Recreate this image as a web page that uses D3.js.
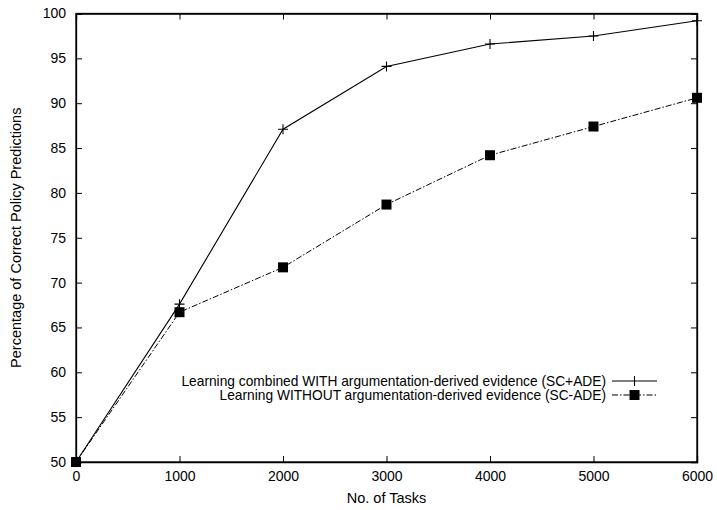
<!DOCTYPE html>
<html>
<head>
<meta charset="utf-8">
<script src="https://d3js.org/d3.v7.min.js"></script>
<style>
  body { margin: 0; background: #fff; }
  text { font-family: "Liberation Sans", Arial, Helvetica, sans-serif; fill: #000; }
</style>
</head>
<body>
<svg width="717" height="510"></svg>
<script>
// data
var tasks = [0, 1000, 2000, 3000, 4000, 5000, 6000];
var withADE = [50, 67.6, 87.1, 94.1, 96.6, 97.5, 99.2];
var withoutADE = [50, 66.7, 71.7, 78.7, 84.2, 87.4, 90.6];
var xTicks = [0, 1000, 2000, 3000, 4000, 5000, 6000];
var yTicks = [50, 55, 60, 65, 70, 75, 80, 85, 90, 95, 100];
var seriesNames = [
  "Learning combined WITH argumentation-derived evidence (SC+ADE)",
  "Learning WITHOUT argumentation-derived evidence (SC-ADE)"
];

var svg = d3.select("svg");
var pL = 76, pR = 697, pT = 13.5, pB = 462;

var x = d3.scaleLinear().domain([0, 6000]).range([pL, pR]);
var y = d3.scaleLinear().domain([50, 100]).range([pB, pT]);

// inward ticks on all four sides
var tl = 6;
svg.append("g").attr("transform", "translate(0," + pB + ")")
  .call(d3.axisBottom(x).tickValues(xTicks).tickSize(-tl).tickPadding(9).tickFormat(d3.format("d")));
svg.append("g").attr("transform", "translate(0," + pT + ")")
  .call(d3.axisTop(x).tickValues(xTicks).tickSize(-tl).tickFormat(""));
svg.append("g").attr("transform", "translate(" + pL + ",0)")
  .call(d3.axisLeft(y).tickValues(yTicks).tickSize(-tl).tickPadding(10).tickFormat(d3.format("d")));
svg.append("g").attr("transform", "translate(" + pR + ",0)")
  .call(d3.axisRight(y).tickValues(yTicks).tickSize(-tl).tickFormat(""));

svg.selectAll(".domain").attr("stroke", "#000").attr("stroke-width", 1.3);
svg.selectAll(".tick line").attr("stroke", "#000");
svg.selectAll(".tick text").style("font-size", "14px").attr("fill", "#000");

// frame
svg.append("rect").attr("x", pL).attr("y", pT)
  .attr("width", pR - pL).attr("height", pB - pT)
  .attr("fill", "none").attr("stroke", "#000").attr("stroke-width", 1.3);

// axis titles
svg.append("text").attr("x", (pL + pR) / 2).attr("y", 503)
  .attr("text-anchor", "middle").style("font-size", "14.5px").text("No. of Tasks");
svg.append("text").attr("transform", "translate(21," + (pT + pB) / 2 + ") rotate(-90)")
  .attr("text-anchor", "middle").style("font-size", "14.5px").text("Percentage of Correct Policy Predictions");

var line = d3.line().x(function(d, i) { return x(tasks[i]); }).y(function(d) { return y(d); });

// SC-ADE: dash-dot with filled squares
svg.append("path").datum(withoutADE).attr("d", line)
  .attr("fill", "none").attr("stroke", "#000").attr("stroke-width", 1)
  .attr("stroke-dasharray", "6,2,1.5,2");
svg.append("g").selectAll("rect").data(withoutADE).enter().append("rect")
  .attr("x", function(d, i) { return x(tasks[i]) - 5; })
  .attr("y", function(d) { return y(d) - 5; })
  .attr("width", 10).attr("height", 10).attr("fill", "#000");

// SC+ADE: solid with plus markers
svg.append("path").datum(withADE).attr("d", line)
  .attr("fill", "none").attr("stroke", "#000").attr("stroke-width", 1.1);
svg.append("g").selectAll("path").data(withADE).enter().append("path")
  .attr("d", function(d, i) {
    var cx = x(tasks[i]), cy = y(d);
    return "M" + (cx - 5) + "," + cy + "H" + (cx + 5) + "M" + cx + "," + (cy - 5) + "V" + (cy + 5);
  })
  .attr("stroke", "#000").attr("stroke-width", 1.1).attr("fill", "none");

// legend
var lg = svg.append("g");
var rows = [381, 395];
lg.selectAll("text").data(seriesNames).enter().append("text")
  .attr("x", 606).attr("y", function(d, i) { return rows[i]; })
  .attr("dy", "0.35em").attr("text-anchor", "end").style("font-size", "13.75px")
  .text(function(d) { return d; });
lg.append("line").attr("x1", 612).attr("x2", 657).attr("y1", rows[0]).attr("y2", rows[0])
  .attr("stroke", "#000").attr("stroke-width", 1.1);
lg.append("path").attr("d", "M634.5," + (rows[0] - 5) + "V" + (rows[0] + 5))
  .attr("stroke", "#000").attr("stroke-width", 1.1);
lg.append("line").attr("x1", 612).attr("x2", 657).attr("y1", rows[1]).attr("y2", rows[1])
  .attr("stroke", "#000").attr("stroke-width", 1).attr("stroke-dasharray", "6,2,1.5,2");
lg.append("rect").attr("x", 629.5).attr("y", rows[1] - 5).attr("width", 10).attr("height", 10).attr("fill", "#000");
</script>
</body>
</html>
